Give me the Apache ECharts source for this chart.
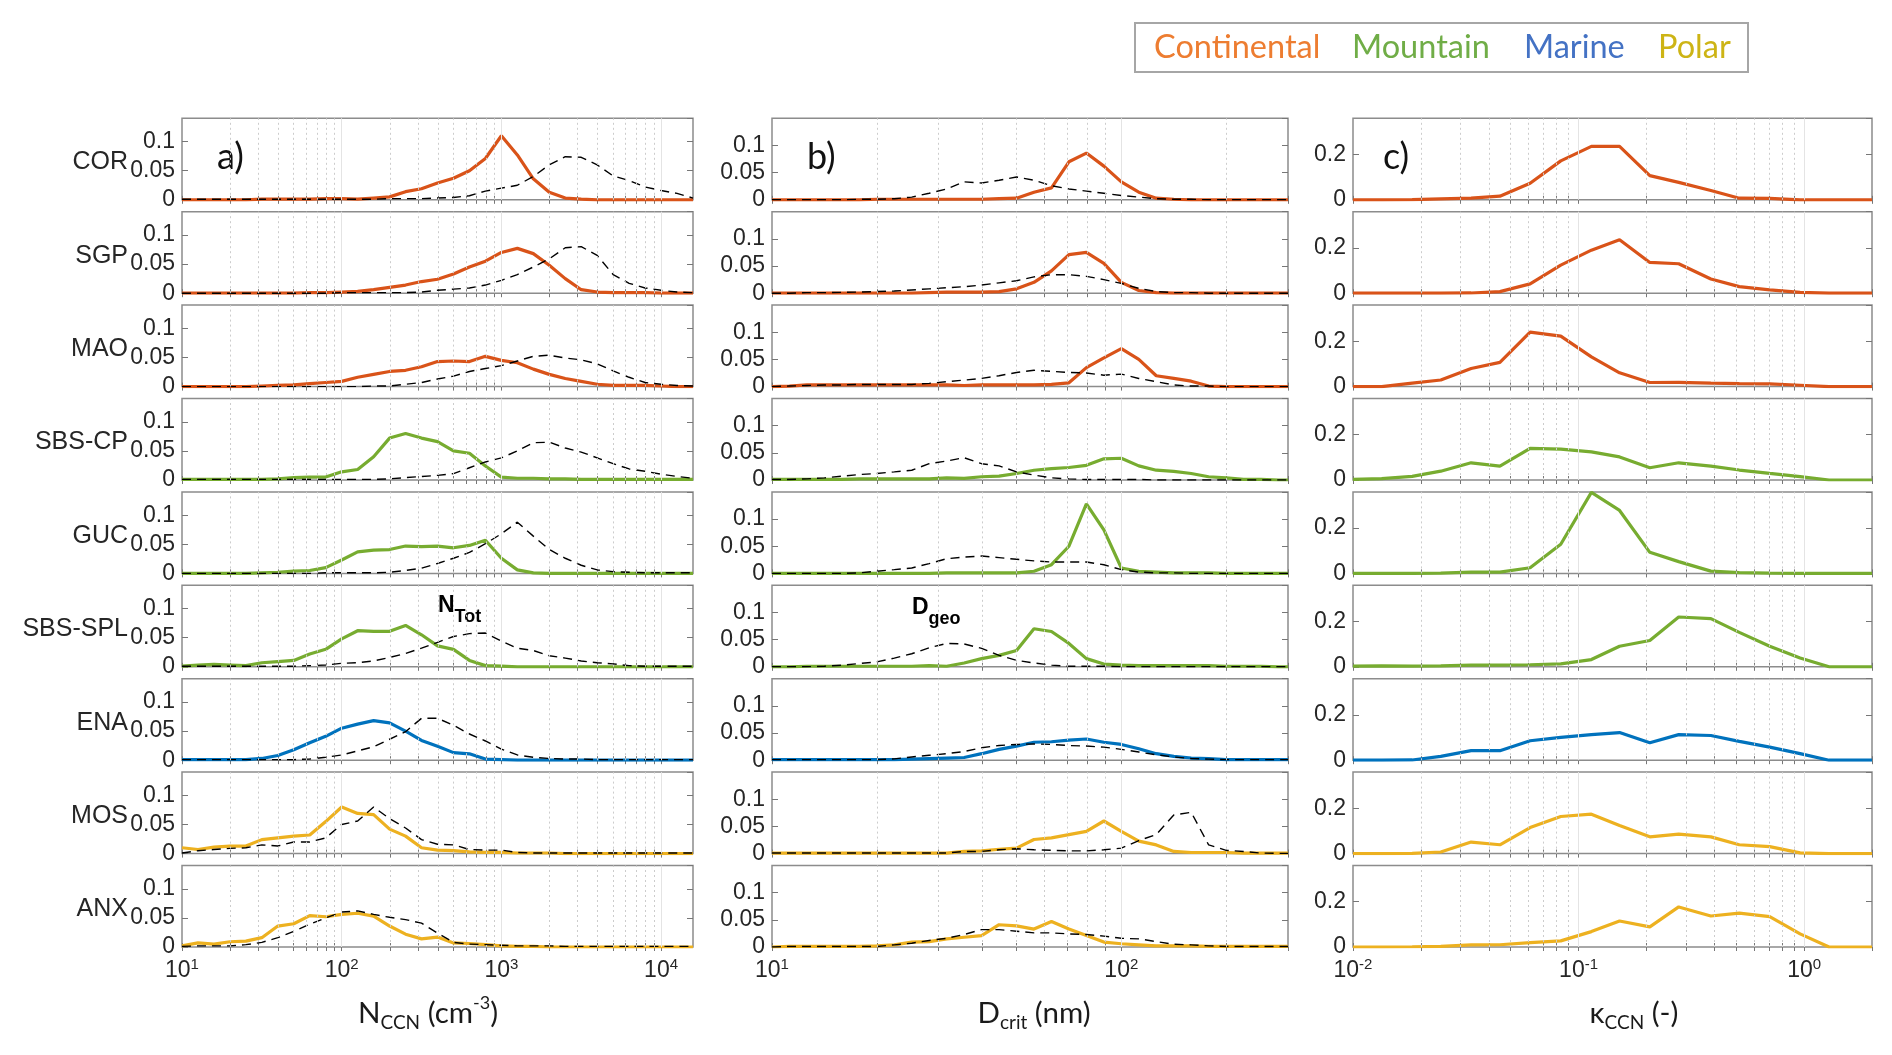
<!DOCTYPE html>
<html><head><meta charset="utf-8">
<script src="https://cdn.jsdelivr.net/npm/echarts@6/dist/echarts.min.js"></script>
<style>html,body{margin:0;padding:0;background:#fff}#c{width:1892px;height:1055px}</style>
</head><body><div id="c"></div>
<script>
// ---------------- data ----------------
const sites = ['COR','SGP','MAO','SBS-CP','GUC','SBS-SPL','ENA','MOS','ANX'];
const siteGroup = ['Continental','Continental','Continental','Mountain','Mountain','Mountain','Marine','Polar','Polar'];
const groupNames = ['Continental','Mountain','Marine','Polar'];
const lineColors = {Continental:'#D95319', Mountain:'#77AC30', Marine:'#0072BD', Polar:'#EDB120'};
const legendColors = {Continental:'#ED7D31', Mountain:'#70AD47', Marine:'#4472C4', Polar:'#CDB415'};
const panelLetters = ['a)','b)','c)'];

// panel a: N_CCN (cm-3), solid = N_CCN, dashed = N_Tot
const nccnX = [10,12.59,15.85,19.95,25.12,31.62,39.81,50.12,63.1,79.43,100,125.9,158.5,199.5,251.2,316.2,398.1,501.2,631,794.3,1000,1259,1585,1995,2512,3162,3981,5012,6310,7943,10000,12589,15849];
const nccn_COR  = [0,0,0,0,0,0.001,0.001,0.001,0.001,0.002, 0.002,0.001,0.003,0.005,0.014,0.019,0.029,0.037,0.05,0.071, 0.11,0.077,0.036,0.013,0.003,0.001,0,0,0,0, 0,0,0];
const ntot_COR  = [0.001,0.001,0.001,0.001,0.001,0.001,0.001,0.001,0.001,0.001, 0.001,0.001,0.001,0.002,0.002,0.002,0.003,0.004,0.007,0.015, 0.02,0.025,0.04,0.06,0.074,0.073,0.06,0.041,0.033,0.022, 0.016,0.011,0.003];
const nccn_SGP  = [0,0,0,0,0,0,0,0,0.001,0.001, 0.002,0.003,0.006,0.01,0.014,0.02,0.024,0.033,0.045,0.055, 0.07,0.077,0.068,0.048,0.025,0.006,0.002,0.001,0.001,0.001, 0,0,0];
const ntot_SGP  = [0,0,0,0,0,0,0,0,0,0, 0.001,0.001,0.001,0.001,0.001,0.002,0.005,0.007,0.009,0.014, 0.022,0.032,0.045,0.059,0.078,0.08,0.065,0.032,0.017,0.009, 0.005,0.002,0.001];
const nccn_MAO  = [0,0,0,0,0,0.001,0.002,0.003,0.005,0.007, 0.009,0.016,0.021,0.026,0.028,0.034,0.043,0.044,0.043,0.052, 0.045,0.041,0.03,0.021,0.014,0.009,0.004,0.002,0.002,0.002, 0.001,0,0];
const ntot_MAO  = [0,0,0,0,0,0,0,0,0,0, 0,0,0.001,0.001,0.004,0.007,0.013,0.018,0.026,0.031, 0.036,0.044,0.052,0.054,0.049,0.046,0.039,0.027,0.016,0.007, 0.004,0.002,0.001];
const nccn_SBSCP = [0.001,0.001,0.001,0.001,0.001,0.001,0.002,0.004,0.005,0.005, 0.014,0.018,0.04,0.072,0.08,0.072,0.066,0.05,0.046,0.024, 0.005,0.003,0.003,0.002,0.002,0.001,0.001,0.001,0.001,0.001, 0.001,0.001,0.001];
const ntot_SBSCP = [0.001,0.001,0.001,0.001,0.001,0.001,0.001,0.001,0.001,0.001, 0.001,0.001,0.001,0.002,0.004,0.006,0.008,0.011,0.021,0.031, 0.038,0.05,0.064,0.065,0.055,0.048,0.038,0.028,0.019,0.015, 0.01,0.006,0.003];
const nccn_GUC  = [0,0,0,0,0,0.001,0.002,0.004,0.005,0.01, 0.023,0.037,0.04,0.041,0.047,0.046,0.047,0.044,0.048,0.057, 0.026,0.006,0.001,0,0,0,0,0,0,0, 0,0,0];
const ntot_GUC  = [0,0,0,0,0,0,0,0,0,0.001, 0.001,0.001,0.001,0.002,0.005,0.009,0.017,0.026,0.036,0.051, 0.068,0.088,0.064,0.041,0.026,0.014,0.006,0.003,0.002,0.001, 0.001,0.001,0.001];
const nccn_SBSSPL = [0.001,0.003,0.004,0.003,0.002,0.007,0.009,0.011,0.022,0.03, 0.048,0.062,0.061,0.061,0.071,0.055,0.036,0.03,0.011,0.002, 0.001,0,0,0,0,0,0,0,0,0, 0,0,0];
const ntot_SBSSPL = [0.001,0.001,0.001,0.001,0.001,0.001,0.001,0.001,0.002,0.003, 0.006,0.007,0.01,0.016,0.023,0.032,0.042,0.052,0.057,0.058, 0.044,0.032,0.028,0.019,0.015,0.01,0.007,0.005,0.002,0.001, 0.001,0.001,0.001];
const nccn_ENA  = [0.001,0.001,0.001,0.001,0.001,0.003,0.008,0.018,0.03,0.041, 0.055,0.062,0.068,0.064,0.05,0.034,0.024,0.013,0.011,0.002, 0.001,0,0,0,0,0,0,0,0,0, 0,0,0];
const ntot_ENA  = [0.001,0.001,0.001,0.001,0.001,0.001,0.001,0.001,0.002,0.005, 0.009,0.016,0.023,0.036,0.049,0.072,0.072,0.06,0.045,0.033, 0.019,0.009,0.005,0.003,0.002,0.002,0.001,0.001,0.001,0.001, 0.001,0.001,0.001];
const nccn_MOS  = [0.01,0.007,0.011,0.013,0.013,0.024,0.027,0.03,0.032,0.055, 0.08,0.069,0.067,0.042,0.03,0.01,0.006,0.005,0.003,0.002, 0.002,0.001,0.001,0.001,0,0,0,0,0,0, 0,0,0];
const ntot_MOS  = [0.001,0.005,0.007,0.009,0.01,0.015,0.013,0.02,0.02,0.027, 0.05,0.056,0.08,0.06,0.044,0.024,0.016,0.015,0.007,0.006, 0.006,0.002,0.001,0.001,0.001,0.001,0.001,0.001,0.001,0.001, 0.001,0.001,0.001];
const nccn_ANX  = [0.002,0.007,0.005,0.009,0.01,0.016,0.036,0.04,0.054,0.052, 0.056,0.058,0.053,0.036,0.022,0.014,0.017,0.007,0.006,0.004, 0.002,0.001,0.001,0,0,0,0,0,0,0, 0,0,0];
const ntot_ANX  = [0.001,0.002,0.002,0.002,0.004,0.008,0.016,0.027,0.039,0.05, 0.06,0.062,0.056,0.051,0.047,0.041,0.024,0.008,0.005,0.004, 0.003,0.002,0.002,0.002,0.001,0.001,0.001,0.001,0.001,0.001, 0.001,0.001,0.001];

// panel b: D_crit (nm), solid = D_crit, dashed = D_geo
const dcritX = [10,11.22,12.59,14.13,15.85,17.78,19.95,22.39,25.12,28.18,31.62,35.48,39.81,44.67,50.12,56.23,63.1,70.79,79.43,89.13,100,112.2,125.9,141.3,158.5,177.8,199.5,223.9,251.2,281.8,300];
const dcrit_COR = [0,0,0,0,0,0,0.001,0.001,0.001,0.001, 0.001,0.001,0.001,0.002,0.003,0.014,0.022,0.07,0.086,0.062, 0.033,0.014,0.003,0.001,0,0,0,0,0,0, 0];
const dgeo_COR  = [0,0,0,0,0,0.001,0.001,0.002,0.005,0.012, 0.02,0.033,0.031,0.036,0.042,0.036,0.026,0.02,0.016,0.012, 0.008,0.005,0.002,0.001,0.001,0,0,0,0,0, 0];
const dcrit_SGP = [0,0,0,0,0,0,0,0,0,0.001, 0.002,0.002,0.002,0.003,0.008,0.02,0.041,0.071,0.075,0.055, 0.02,0.005,0.001,0,0,0,0,0,0,0, 0];
const dgeo_SGP  = [0,0,0.001,0.001,0.0015,0.002,0.003,0.004,0.006,0.008, 0.01,0.012,0.015,0.019,0.023,0.03,0.034,0.034,0.031,0.025, 0.018,0.009,0.003,0.001,0.001,0,0,0,0,0, 0];
const dcrit_MAO = [0,0.001,0.003,0.003,0.003,0.003,0.003,0.003,0.003,0.003, 0.003,0.002,0.003,0.003,0.003,0.003,0.004,0.007,0.035,0.053, 0.07,0.05,0.02,0.015,0.01,0.001,0,0,0,0, 0];
const dgeo_MAO  = [0,0.001,0.002,0.003,0.003,0.004,0.004,0.004,0.004,0.006, 0.009,0.012,0.015,0.02,0.026,0.03,0.028,0.026,0.025,0.021, 0.023,0.015,0.009,0.003,0.001,0.001,0,0,0,0, 0];
const dcrit_SBSCP = [0.001,0.001,0.001,0.001,0.001,0.002,0.002,0.002,0.002,0.002, 0.004,0.003,0.006,0.007,0.012,0.018,0.021,0.023,0.027,0.039, 0.04,0.026,0.018,0.016,0.012,0.006,0.004,0.001,0.001,0, 0];
const dgeo_SBSCP  = [0.001,0.001,0.002,0.004,0.007,0.01,0.012,0.015,0.018,0.03, 0.035,0.041,0.03,0.026,0.015,0.009,0.004,0.002,0.001,0.001, 0.001,0.001,0,0,0,0,0,0,0,0, 0];
const dcrit_GUC = [0,0,0,0,0,0,0,0,0,0, 0.001,0.001,0.001,0.001,0.001,0.004,0.016,0.05,0.128,0.08, 0.01,0.004,0.0025,0.001,0.001,0.001,0,0,0,0, 0];
const dgeo_GUC  = [0,0,0,0,0,0.001,0.004,0.007,0.01,0.018, 0.027,0.03,0.032,0.029,0.026,0.023,0.021,0.021,0.021,0.016, 0.007,0.0025,0.001,0.001,0,0,0,0,0,0, 0];
const dcrit_SBSSPL = [0,0,0.001,0.001,0.001,0.001,0.001,0.001,0.001,0.002, 0.001,0.007,0.015,0.021,0.03,0.07,0.065,0.043,0.015,0.005, 0.003,0.002,0.002,0.002,0.002,0.002,0.001,0.001,0.001,0, 0];
const dgeo_SBSSPL  = [0,0,0,0.001,0.003,0.006,0.009,0.016,0.024,0.035, 0.043,0.042,0.034,0.021,0.012,0.007,0.003,0.001,0.001,0.001, 0,0,0,0,0,0,0,0,0,0, 0];
const dcrit_ENA = [0.001,0.001,0.001,0.001,0.001,0.001,0.001,0.001,0.002,0.003, 0.004,0.005,0.012,0.02,0.026,0.033,0.034,0.037,0.039,0.033, 0.029,0.021,0.012,0.007,0.004,0.003,0.001,0.001,0.001,0.001, 0.001];
const dgeo_ENA  = [0.001,0.001,0.001,0.001,0.001,0.001,0.001,0.0025,0.006,0.009, 0.012,0.016,0.023,0.027,0.029,0.03,0.029,0.027,0.026,0.024, 0.02,0.015,0.01,0.006,0.003,0.002,0.001,0.001,0.001,0.001, 0.001];
const dcrit_MOS = [0.001,0.001,0.001,0.001,0.001,0.001,0.001,0.001,0.001,0.001, 0.001,0.004,0.005,0.008,0.01,0.026,0.029,0.035,0.041,0.06, 0.041,0.023,0.016,0.004,0.002,0.002,0.002,0.001,0.001,0.001, 0.001];
const dgeo_MOS  = [0.001,0.001,0.001,0.001,0.001,0.001,0.001,0.001,0.001,0.001, 0.001,0.004,0.004,0.007,0.009,0.007,0.006,0.005,0.005,0.007, 0.01,0.024,0.035,0.071,0.076,0.016,0.006,0.004,0.001,0.0005, 0.0005];
const dcrit_ANX = [0,0.001,0.001,0.001,0.001,0.001,0.002,0.004,0.009,0.01, 0.015,0.018,0.021,0.041,0.039,0.033,0.047,0.033,0.021,0.009, 0.006,0.004,0.002,0.002,0.002,0.001,0.001,0.001,0.001,0.001, 0.001];
const dgeo_ANX  = [0,0.001,0.001,0.001,0.001,0.001,0.001,0.004,0.007,0.012, 0.016,0.023,0.032,0.032,0.029,0.026,0.026,0.024,0.023,0.02, 0.016,0.015,0.01,0.005,0.004,0.002,0.001,0.001,0.001,0.001, 0.001];

// panel c: kappa_CCN (-)
const kappaX = [0.01,0.0134,0.0183,0.0245,0.0334,0.0448,0.061,0.0834,0.114,0.152,0.207,0.278,0.386,0.516,0.704,0.96,1.29,2.0];
const kappa_COR    = [0,0,0.001,0.004,0.007,0.016,0.073,0.172,0.236,0.236,0.107,0.077,0.041,0.007,0.006,0,0,0];
const kappa_SGP    = [0,0,0,0,0.001,0.007,0.041,0.124,0.19,0.236,0.136,0.13,0.063,0.029,0.015,0.004,0,0];
const kappa_MAO    = [0,0,0.015,0.029,0.08,0.107,0.241,0.223,0.131,0.061,0.018,0.019,0.015,0.013,0.012,0.006,0,0];
const kappa_SBSCP  = [0.003,0.006,0.016,0.039,0.076,0.061,0.14,0.136,0.124,0.102,0.054,0.076,0.061,0.044,0.029,0.015,0,0];
const kappa_GUC    = [0,0,0,0.001,0.006,0.006,0.025,0.129,0.358,0.278,0.093,0.052,0.01,0.003,0.001,0,0,0];
const kappa_SBSSPL = [0.003,0.004,0.003,0.004,0.007,0.007,0.009,0.013,0.032,0.091,0.116,0.22,0.213,0.152,0.091,0.039,0,0];
const kappa_ENA    = [0,0,0.001,0.017,0.042,0.042,0.086,0.101,0.113,0.122,0.077,0.113,0.109,0.083,0.058,0.029,0,0];
const kappa_MOS    = [0,0,0.001,0.007,0.051,0.039,0.115,0.164,0.174,0.124,0.074,0.086,0.074,0.039,0.031,0.003,0,0];
const kappa_ANX    = [0,0,0.001,0.003,0.009,0.01,0.019,0.027,0.068,0.115,0.089,0.177,0.137,0.15,0.134,0.058,0,0];

const nccnList  = [nccn_COR,nccn_SGP,nccn_MAO,nccn_SBSCP,nccn_GUC,nccn_SBSSPL,nccn_ENA,nccn_MOS,nccn_ANX];
const ntotList  = [ntot_COR,ntot_SGP,ntot_MAO,ntot_SBSCP,ntot_GUC,ntot_SBSSPL,ntot_ENA,ntot_MOS,ntot_ANX];
const dcritList = [dcrit_COR,dcrit_SGP,dcrit_MAO,dcrit_SBSCP,dcrit_GUC,dcrit_SBSSPL,dcrit_ENA,dcrit_MOS,dcrit_ANX];
const dgeoList  = [dgeo_COR,dgeo_SGP,dgeo_MAO,dgeo_SBSCP,dgeo_GUC,dgeo_SBSSPL,dgeo_ENA,dgeo_MOS,dgeo_ANX];
const kappaList = [kappa_COR,kappa_SGP,kappa_MAO,kappa_SBSCP,kappa_GUC,kappa_SBSSPL,kappa_ENA,kappa_MOS,kappa_ANX];

// ---------------- layout ----------------
const colLeft = [182, 772, 1353];
const colWidth = [511, 516, 519];
const rowTop0 = 118.3, rowStep = 93.4, rowH = 81.5;
const numFont = '"Liberation Sans", Arial, sans-serif';
const titleFont = 'Lato, "Open Sans", sans-serif';

function logTicks(lo, hi) { // tick values m*10^d inside [lo, hi]
  const out = [];
  for (let d = Math.floor(Math.log10(lo)); d <= Math.ceil(Math.log10(hi)); d++) {
    for (let m = 1; m <= 9; m++) {
      const v = +(m * Math.pow(10, d)).toPrecision(6);
      if (v >= lo * 0.999 && v <= hi * 1.001) out.push(v);
    }
  }
  return out;
}

const cols = [
  { x: nccnX,  solid: nccnList,  dashed: ntotList, min: 10,   max: 15849, ymax: 0.14, yint: 0.05 },
  { x: dcritX, solid: dcritList, dashed: dgeoList, min: 10,   max: 300,   ymax: 0.15, yint: 0.05 },
  { x: kappaX, solid: kappaList, dashed: null,     min: 0.01, max: 2,     ymax: 0.36, yint: 0.2 }
];

const grids = [], xAxes = [], yAxes = [], series = [], graphics = [];
const labelRich = {
  b: { fontSize: 23, fontFamily: numFont, color: '#262626', lineHeight: 28 },
  s: { fontSize: 15, fontFamily: numFont, color: '#262626', lineHeight: 12, verticalAlign: 'top' }
};
function expLabel(v) {
  const e = Math.round(Math.log10(v));
  return '{b|10}{s|' + e + '}';
}

cols.forEach((col, c) => {
  const ticks = logTicks(col.min, col.max);
  const majors = ticks.filter(v => Math.abs(Math.log10(v) - Math.round(Math.log10(v))) < 1e-6 && v > col.min * 1.001 && v < col.max * 0.999);
  const minors = ticks.filter(v => majors.indexOf(v) < 0 && v > col.min * 1.001 && v < col.max * 0.999);
  for (let r = 0; r < 9; r++) {
    const g = grids.length;
    const top = rowTop0 + r * rowStep;
    grids.push({ left: colLeft[c], top: top, width: colWidth[c], height: rowH, show: true,
      borderColor: '#8c8c8c', borderWidth: 1.5, backgroundColor: 'rgba(0,0,0,0)' });
    const xCommon = { gridIndex: g, type: 'log', logBase: 10, min: col.min, max: col.max,
      axisLine: { show: false }, splitLine: { show: false },
      axisTick: { show: true, inside: true, length: 4, customValues: ticks, lineStyle: { color: '#777', width: 1 } } };
    xAxes.push(Object.assign({}, xCommon, { position: 'bottom',
      axisLabel: { show: r === 8, formatter: expLabel, rich: labelRich, margin: 10, showMaxLabel: false, showMinLabel: true, hideOverlap: false } }));
    xAxes.push(Object.assign({}, xCommon, { position: 'top', axisLabel: { show: false } }));
    const yCommon = { gridIndex: g, type: 'value', min: 0, max: col.ymax, interval: col.yint,
      axisLine: { show: false }, splitLine: { show: false },
      axisTick: { show: true, inside: true, length: 6, lineStyle: { color: '#777', width: 1 } } };
    yAxes.push(Object.assign({}, yCommon, { position: 'left',
      axisLabel: { show: true, fontSize: 23, fontFamily: numFont, color: '#262626', margin: 7, showMaxLabel: false } }));
    yAxes.push(Object.assign({}, yCommon, { position: 'right', axisLabel: { show: false } }));

    const xi = 2 * g, yi = 2 * g;
    // grid lines (major solid, minor dotted)
    series.push({ type: 'line', xAxisIndex: xi, yAxisIndex: yi, data: [], silent: true, z: 1, animation: false,
      markLine: { silent: true, symbol: ['none', 'none'], animation: false, label: { show: false },
        data: majors.map(v => ({ xAxis: v, lineStyle: { type: 'solid', color: '#e4e4e4', width: 1 } }))
          .concat(minors.map(v => ({ xAxis: v, lineStyle: { type: [2, 3], color: '#cccccc', width: 1 } }))) } });
    const color = lineColors[siteGroup[r]];
    series.push({ type: 'line', name: sites[r], xAxisIndex: xi, yAxisIndex: yi, z: 2, silent: true, animation: false,
      showSymbol: false, symbol: 'none',
      data: col.x.map((x, i) => [x, col.solid[r][i]]),
      lineStyle: { color: color, width: 3.2 } });
    if (col.dashed) {
      series.push({ type: 'line', xAxisIndex: xi, yAxisIndex: yi, z: 3, silent: true, animation: false,
        showSymbol: false, symbol: 'none',
        data: col.x.map((x, i) => [x, col.dashed[r][i]]),
        lineStyle: { color: '#000', width: 1.4, type: [9, 6] } });
    }
    if (c === 0) {
      graphics.push({ type: 'text', x: 128, y: top + 44, silent: true,
        style: { text: sites[r], align: 'right', verticalAlign: 'middle', fontSize: 25, fontFamily: numFont, fill: '#262626' } });
    }
  }
  graphics.push({ type: 'text', x: [217, 807, 1383][c], y: 157, silent: true,
    style: { text: panelLetters[c], align: 'left', verticalAlign: 'middle', fontSize: 36, fontFamily: titleFont, fill: '#111' } });
});

// axis titles
const titleRich = {
  m: { fontSize: 29.5, fontFamily: titleFont, color: '#1a1a1a', lineHeight: 38 },
  sub: { fontSize: 19, fontFamily: titleFont, color: '#1a1a1a', lineHeight: 19, verticalAlign: 'bottom' },
  sup: { fontSize: 18, fontFamily: titleFont, color: '#1a1a1a', lineHeight: 16, verticalAlign: 'top' }
};
[
  { x: 428, t: '{m|N}{sub|CCN}{m| (cm}{sup|-3}{m|)}' },
  { x: 1034, t: '{m|D}{sub|crit}{m| (nm)}' },
  { x: 1634, t: '{m|κ}{sub|CCN}{m| (-)}' }
].forEach(o => graphics.push({ type: 'text', x: o.x, y: 1013, silent: true,
  style: { text: o.t, rich: titleRich, align: 'center', verticalAlign: 'middle', fill: '#1a1a1a', fontFamily: titleFont, fontSize: 29.5 } }));

// in-panel annotations N_Tot and D_geo
const annRich = {
  n: { fontSize: 23, fontWeight: 'bold', fontFamily: numFont, color: '#111', lineHeight: 40 },
  t: { fontSize: 18, fontWeight: 'bold', fontFamily: numFont, color: '#111', lineHeight: 18, verticalAlign: 'bottom' }
};
graphics.push({ type: 'text', x: 438, y: 606, silent: true, style: { text: '{n|N}{t|Tot}', rich: annRich, align: 'left', verticalAlign: 'middle' } });
graphics.push({ type: 'text', x: 912, y: 608, silent: true, style: { text: '{n|D}{t|geo}', rich: annRich, align: 'left', verticalAlign: 'middle' } });

// legend box
graphics.push({ type: 'rect', silent: true, shape: { x: 1135, y: 23, width: 613, height: 49 },
  style: { fill: '#fff', stroke: '#a6a6a6', lineWidth: 2 } });
const legendX = [1154, 1352, 1524, 1658];
groupNames.forEach((nm, i) => graphics.push({ type: 'text', x: legendX[i], y: 48, silent: true,
  style: { text: nm, align: 'left', verticalAlign: 'middle', fontSize: 32.5, fontFamily: titleFont, fill: legendColors[nm] } }));

const chart = echarts.init(document.getElementById('c'), null, { renderer: 'canvas' });
chart.setOption({
  backgroundColor: '#fff',
  animation: false,
  grid: grids, xAxis: xAxes, yAxis: yAxes, series: series, graphic: graphics
});
</script></body></html>
